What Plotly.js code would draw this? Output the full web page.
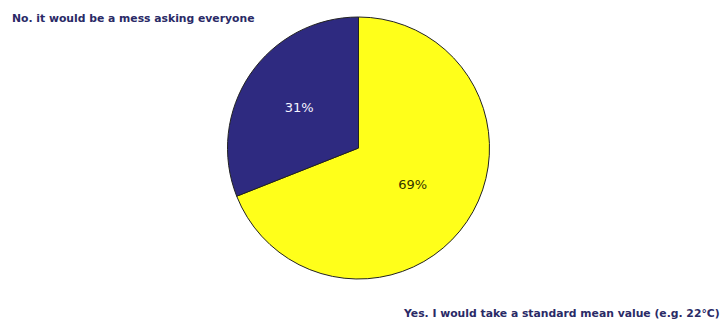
<!DOCTYPE html>
<html>
<head>
<meta charset="utf-8">
<script src="https://cdn.plot.ly/plotly-3.0.1.min.js"></script>
<style>html,body{margin:0;padding:0;background:#fff;}#chart{width:726px;height:324px;}</style>
</head>
<body>
<div id="chart"></div>
<script>
var categories = ["Yes. I would take a standard mean value (e.g. 22°C)", "No. it would be a mess asking everyone"];
var values = [69, 31];
var percentLabels = ["69%", "31%"];
var colors = ["#ffff1a", "#2e2a80"];
var textColors = ["#333300", "#f4f4ff"];

var W = 726, H = 324;
var cx = 358.5, cy = 148, r = 131;

var trace = {
  type: "pie",
  labels: categories,
  values: values,
  text: percentLabels,
  textinfo: "text",
  textposition: "inside",
  insidetextorientation: "horizontal",
  sort: false,
  direction: "clockwise",
  rotation: 0,
  marker: {colors: colors, line: {color: "#222222", width: 1}},
  insidetextfont: {family: "DejaVu Sans, Verdana, sans-serif", size: 13, color: textColors},
  domain: {x: [(cx - r) / W, (cx + r) / W], y: [(H - cy - r) / H, (H - cy + r) / H]},
  hoverinfo: "label+percent"
};

var layout = {
  width: W, height: H,
  margin: {l: 0, r: 0, t: 0, b: 0},
  showlegend: false,
  paper_bgcolor: "#ffffff",
  annotations: [
    {text: categories[1], x: 10 / W, y: 1 - 18 / H, xref: "paper", yref: "paper", xanchor: "left", yanchor: "middle", showarrow: false,
     font: {family: "DejaVu Sans, Verdana, sans-serif", size: 10.8, color: "#2a2a66", weight: "bold"}},
    {text: categories[0], x: 722 / W, y: 1 - 313 / H, xref: "paper", yref: "paper", xanchor: "right", yanchor: "middle", showarrow: false,
     font: {family: "DejaVu Sans, Verdana, sans-serif", size: 10.8, color: "#2a2a66", weight: "bold"}}
  ]
};

Plotly.newPlot("chart", [trace], layout, {staticPlot: true, displayModeBar: false});
</script>
</body>
</html>
